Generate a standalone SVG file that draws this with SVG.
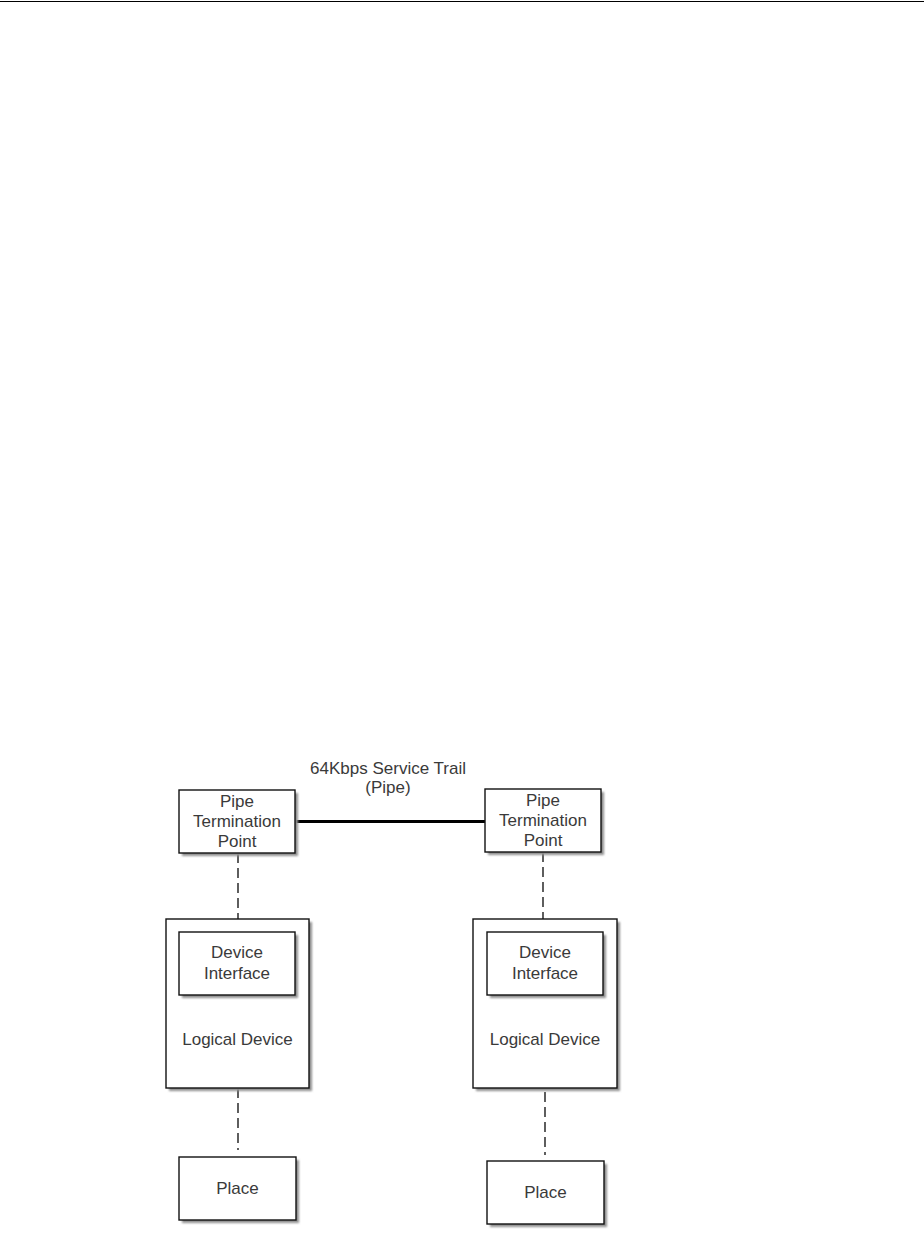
<svg xmlns="http://www.w3.org/2000/svg" width="924" height="1236" viewBox="0 0 924 1236">
<style>
.box{fill:#fff;stroke:#111;stroke-width:1.4}
.sh{fill:#8f8f8f;filter:url(#blur)}
.t{font-family:"Liberation Sans",Arial,sans-serif;font-size:17px;fill:#3a3a3a;text-anchor:middle}
.dash{stroke:#1a1a1a;stroke-width:1.4;stroke-dasharray:10 5;fill:none}
</style>
<defs>
<filter id="blur" x="-10%" y="-10%" width="120%" height="120%"><feGaussianBlur stdDeviation="1"/></filter>
</defs>
<rect width="924" height="1236" fill="#fff"/>
<line x1="0" y1="1.5" x2="924" y2="1.5" stroke="#000" stroke-width="1.2"/>
<g id="connectors">
<line x1="295" y1="821.5" x2="485" y2="821.5" stroke="#000" stroke-width="3"/>
<text class="t" x="388" y="774">64Kbps Service Trail</text>
<text class="t" x="388" y="793">(Pipe)</text>
<line class="dash" x1="238" y1="853" x2="238" y2="937"/>
<line class="dash" x1="543" y1="852" x2="543" y2="937"/>
<line class="dash" x1="238" y1="1088" x2="238" y2="1150"/>
<line class="dash" x1="545" y1="1092" x2="545" y2="1155"/>
</g>
<g id="ptp-left">
<rect class="sh" x="182" y="793" width="116" height="63"/>
<rect class="box" x="179" y="790" width="116" height="63"/>
<text class="t" x="237" y="807">Pipe</text>
<text class="t" x="237" y="827">Termination</text>
<text class="t" x="237" y="847">Point</text>
</g>
<g id="ptp-right">
<rect class="sh" x="488" y="792" width="116" height="63"/>
<rect class="box" x="485" y="789" width="116" height="63"/>
<text class="t" x="543" y="806">Pipe</text>
<text class="t" x="543" y="826">Termination</text>
<text class="t" x="543" y="846">Point</text>
</g>
<g id="logical-left">
<rect class="sh" x="169" y="922" width="143" height="169"/>
<rect class="box" x="166" y="919" width="143" height="169"/>
<text class="t" x="237.5" y="1045">Logical Device</text>
</g>
<g id="di-left">
<rect class="sh" x="182" y="935" width="116" height="63"/>
<rect class="box" x="179" y="932" width="116" height="63"/>
<text class="t" x="237" y="958">Device</text>
<text class="t" x="237" y="979">Interface</text>
</g>
<g id="logical-right">
<rect class="sh" x="476" y="922" width="144" height="169"/>
<rect class="box" x="473" y="919" width="144" height="169"/>
<text class="t" x="545" y="1045">Logical Device</text>
</g>
<g id="di-right">
<rect class="sh" x="490" y="935" width="116" height="63"/>
<rect class="box" x="487" y="932" width="116" height="63"/>
<text class="t" x="545" y="958">Device</text>
<text class="t" x="545" y="979">Interface</text>
</g>
<g id="place-left">
<rect class="sh" x="182" y="1160" width="117" height="63"/>
<rect class="box" x="179" y="1157" width="117" height="63"/>
<text class="t" x="237.5" y="1194">Place</text>
</g>
<g id="place-right">
<rect class="sh" x="490" y="1164" width="117" height="63"/>
<rect class="box" x="487" y="1161" width="117" height="63"/>
<text class="t" x="545.5" y="1198">Place</text>
</g>
</svg>
